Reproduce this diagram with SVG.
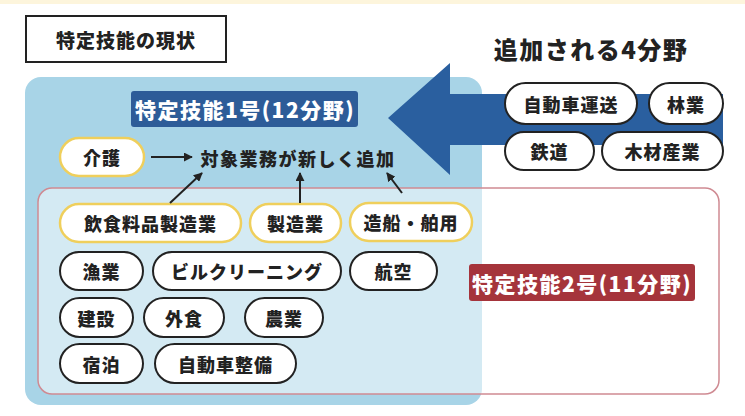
<svg xmlns="http://www.w3.org/2000/svg" width="745" height="416" viewBox="0 0 745 416">
<style>
text{font-family:"Noto Sans CJK JP","Noto Sans",sans-serif;font-weight:900;dominant-baseline:central;text-anchor:middle}
.t{font-size:18px;fill:#222;letter-spacing:1px}
.pk{fill:#fff;stroke:#222;stroke-width:2}
.py{fill:#fff;stroke:#efcf5c;stroke-width:2.5}
.lbl{font-size:21px;fill:#fff;letter-spacing:1.5px}
.c{stroke:#222;stroke-width:2;fill:none;marker-end:url(#ah)}
</style>
<defs>
<marker id="ah" viewBox="0 0 10 10" refX="9" refY="5" markerWidth="4.5" markerHeight="4.5" orient="auto" markerUnits="strokeWidth">
<path d="M0,0 L10,5 L0,10 z" fill="#222"/>
</marker>
</defs>
<rect x="0" y="0" width="745" height="416" fill="#fff"/>
<rect x="0" y="0" width="745" height="4" fill="#fdf5dc"/>
<g id="title">
<rect x="26" y="16" width="200" height="46" fill="#fff" stroke="#222" stroke-width="2"/>
<text x="126" y="39" style="font-size:19px;fill:#222;letter-spacing:1px">特定技能の現状</text>
</g>
<g id="group1">
<rect x="25" y="77" width="457" height="328" rx="16" fill="#a8d4e7"/>
</g>
<g id="group2">
<rect x="38" y="188" width="681" height="206" rx="14" fill="#fff" fill-opacity="0.5" stroke="#cf8a92" stroke-width="1.5"/>
</g>
<g id="bigArrow">
<polygon points="388,118 450,63 450,94 723,94 723,145 450,145 450,175" fill="#2a5f9f"/>
</g>
<g id="label1">
<rect x="131" y="91" width="227" height="36" rx="3" fill="#2d5c98"/>
<text class="lbl" x="245" y="109">特定技能1号(12分野)</text>
</g>
<g id="label2">
<rect x="469" y="264" width="226" height="37" rx="3" fill="#a5343b"/>
<text class="lbl" x="582" y="282.5">特定技能2号(11分野)</text>
</g>
<g id="addTitle">
<text x="591" y="48" style="font-size:24px;fill:#222;letter-spacing:1.5px">追加される4分野</text>
</g>
<g id="kaigo"><rect class="py" x="60" y="138" width="84" height="38" rx="19"/><text class="t" x="102" y="157">介護</text></g>
<g id="newtask"><text class="t" x="298" y="158" style="letter-spacing:1.5px">対象業務が新しく追加</text></g>
<g id="inshoku"><rect class="py" x="60" y="204" width="181" height="38" rx="19"/><text class="t" x="150.5" y="223">飲食料品製造業</text></g>
<g id="seizo"><rect class="py" x="250" y="204" width="91" height="38" rx="19"/><text class="t" x="295.5" y="223">製造業</text></g>
<g id="zosen"><rect class="py" x="350" y="203" width="122" height="38" rx="19"/><text class="t" x="411" y="222">造船・舶用</text></g>
<g id="gyogyo"><rect class="pk" x="60" y="252" width="83" height="38" rx="19"/><text class="t" x="101.5" y="271">漁業</text></g>
<g id="building"><rect class="pk" x="153" y="252" width="188" height="38" rx="19"/><text class="t" x="247" y="271">ビルクリーニング</text></g>
<g id="koku"><rect class="pk" x="350" y="252" width="87" height="38" rx="19"/><text class="t" x="393.5" y="271">航空</text></g>
<g id="kensetsu"><rect class="pk" x="60" y="298" width="73" height="39" rx="19.5"/><text class="t" x="96.5" y="317.5">建設</text></g>
<g id="gaishoku"><rect class="pk" x="144" y="298" width="80" height="39" rx="19.5"/><text class="t" x="184" y="317.5">外食</text></g>
<g id="nogyo"><rect class="pk" x="245" y="298" width="78" height="39" rx="19.5"/><text class="t" x="284" y="317.5">農業</text></g>
<g id="shukuhaku"><rect class="pk" x="60" y="344" width="83" height="39" rx="19.5"/><text class="t" x="101.5" y="363.5">宿泊</text></g>
<g id="seibi"><rect class="pk" x="155" y="344" width="141" height="39" rx="19.5"/><text class="t" x="225.5" y="363.5">自動車整備</text></g>
<g id="unso"><rect class="pk" x="505" y="83" width="132" height="41" rx="20.5"/><text class="t" x="571" y="103.5">自動車運送</text></g>
<g id="ringyo"><rect class="pk" x="649" y="83" width="74" height="41" rx="20.5"/><text class="t" x="686" y="103.5">林業</text></g>
<g id="tetsudo"><rect class="pk" x="505" y="132" width="89" height="38" rx="19"/><text class="t" x="549.5" y="151">鉄道</text></g>
<g id="mokuzai"><rect class="pk" x="602" y="132" width="121" height="38" rx="19"/><text class="t" x="662.5" y="151">木材産業</text></g>
<g id="connectors">
<line class="c" x1="151" y1="157" x2="192" y2="157"/>
<line class="c" x1="170" y1="203" x2="202" y2="173"/>
<line class="c" x1="300" y1="203" x2="300" y2="173"/>
<line class="c" x1="402" y1="193" x2="387" y2="173"/>
</g>
</svg>
